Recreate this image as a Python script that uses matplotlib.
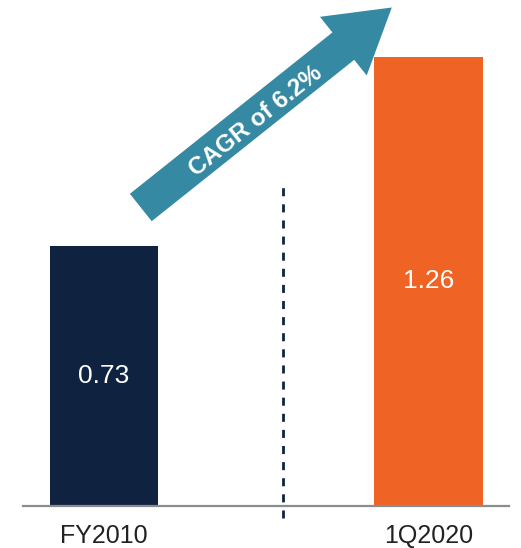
import matplotlib.pyplot as plt
from matplotlib.patches import FancyArrow

plt.rcParams['font.family'] = ['Liberation Sans', 'DejaVu Sans']

# data
periods = ['FY2010', '1Q2020']
values = [0.73, 1.26]
bar_colors = ['#0F2340', '#EF6424']
cagr_text = 'CAGR of 6.2%'

fig = plt.figure(figsize=(5.21, 5.48), dpi=100)

# main bar axes
ax = fig.add_axes([23 / 521, (548 - 505.6) / 548, 486 / 521, 498 / 548])
bars = ax.bar(range(len(periods)), values, width=0.333, color=bar_colors)
ax.bar_label(bars, labels=['%.2f' % v for v in values], label_type='center',
             color='white', fontsize=19)

ax.set_xlim(-0.2496, 1.248)
ax.set_ylim(0, 1.4)
ax.set_xticks(range(len(periods)))
ax.set_xticklabels(periods, fontsize=18, color='#222222')
ax.tick_params(axis='x', length=0, pad=13)
ax.set_yticks([])
for side in ['top', 'left', 'right']:
    ax.spines[side].set_visible(False)
ax.spines['bottom'].set_color('#8C8C8C')
ax.spines['bottom'].set_linewidth(1.6)

# dashed separator between the two periods
ax.plot([0.552, 0.552], [-0.035, 0.915], color='#0F2340', lw=2,
        linestyle=(0, (2.9, 2.9)), clip_on=False)

# overlay in pixel coordinates for the CAGR arrow
ov = fig.add_axes([0, 0, 1, 1])
ov.set_xlim(0, 521)
ov.set_ylim(548, 0)
ov.axis('off')
ov.add_patch(FancyArrow(140.8, 207.5, 251, -200, width=35, head_width=75,
                        head_length=62, length_includes_head=True,
                        color='#3589A3', lw=0))
ov.text(256, 121, cagr_text, rotation=38.5, rotation_mode='anchor',
        ha='center', va='center', color='white', fontsize=17.5,
        fontweight='bold')

fig.savefig('out.png', dpi=100)
